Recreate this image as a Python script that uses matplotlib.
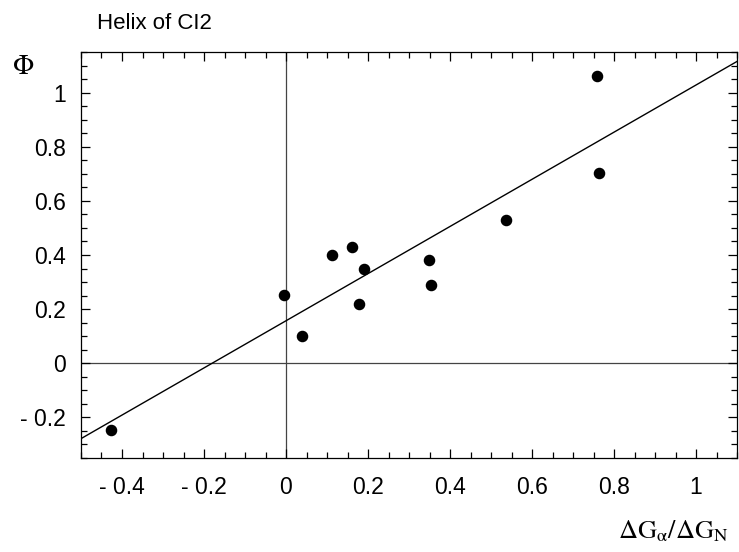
"""Phi-value plot for the helix of CI2."""

import matplotlib
matplotlib.use("Agg")
import matplotlib.pyplot as plt
from matplotlib.ticker import FixedLocator, MultipleLocator, FixedFormatter

plt.rcParams['font.family'] = ['Liberation Sans', 'DejaVu Sans']
plt.rcParams['mathtext.fontset'] = 'stix'

# data
dg_ratio = [-0.428, -0.005, 0.040, 0.111, 0.160, 0.179, 0.191, 0.348, 0.353, 0.537, 0.758, 0.763]
phi = [-0.248, 0.251, 0.100, 0.400, 0.431, 0.220, 0.350, 0.381, 0.290, 0.530, 1.060, 0.703]

# fitted line (slope, intercept)
fit_slope = 0.871
fit_intercept = 0.157

x_ticks = [-0.4, -0.2, 0, 0.2, 0.4, 0.6, 0.8, 1.0]
x_tick_labels = ['- 0.4', '- 0.2', '0', '0.2', '0.4', '0.6', '0.8', '1']
y_ticks = [-0.2, 0, 0.2, 0.4, 0.6, 0.8, 1.0]
y_tick_labels = ['- 0.2', '0', '0.2', '0.4', '0.6', '0.8', '1']

XMIN, XMAX = -0.5, 1.1
YMIN, YMAX = -0.35, 1.15

fig = plt.figure(figsize=(7.39, 5.52), dpi=100)
ax = fig.add_axes([81 / 739, 1 - 458 / 552, 656 / 739, 406 / 552])

# reference lines through the origin
ax.axvline(0, color='#444444', lw=0.9, zorder=1)
ax.axhline(0, color='#444444', lw=0.9, zorder=1)

# fit line
ax.plot([XMIN, XMAX],
        [fit_intercept + fit_slope * XMIN, fit_intercept + fit_slope * XMAX],
        color='black', lw=1.0, zorder=2)

ax.plot(dg_ratio, phi, 'o', color='black', ms=7.3, zorder=3)

ax.set_xlim(XMIN, XMAX)
ax.set_ylim(YMIN, YMAX)

ax.xaxis.set_major_locator(FixedLocator(x_ticks))
ax.xaxis.set_major_formatter(FixedFormatter(x_tick_labels))
ax.yaxis.set_major_locator(FixedLocator(y_ticks))
ax.yaxis.set_major_formatter(FixedFormatter(y_tick_labels))
ax.xaxis.set_minor_locator(MultipleLocator(0.05))
ax.yaxis.set_minor_locator(MultipleLocator(0.05))

ax.tick_params(which='both', direction='in', top=True, right=True, width=0.9)
ax.tick_params(which='major', length=6.5, labelsize=16.5)
ax.tick_params(axis='x', which='major', pad=13)
ax.tick_params(axis='y', which='major', pad=11)
ax.tick_params(which='minor', length=4)
for sp in ax.spines.values():
    sp.set_linewidth(0.9)

fig.text(97 / 739, 1 - 29 / 552, 'Helix of CI2', fontsize=16, ha='left', va='baseline')
fig.text(23 / 739, 1 - 67 / 552, r'$\Phi$', fontsize=20, ha='center', va='center')
fig.text(729 / 739, 1 - 538 / 552, r'$\Delta\mathrm{G}_\mathrm{\alpha}/\Delta\mathrm{G}_\mathrm{N}$',
         fontsize=19, ha='right', va='baseline')

fig.savefig('out.png', dpi=100)
